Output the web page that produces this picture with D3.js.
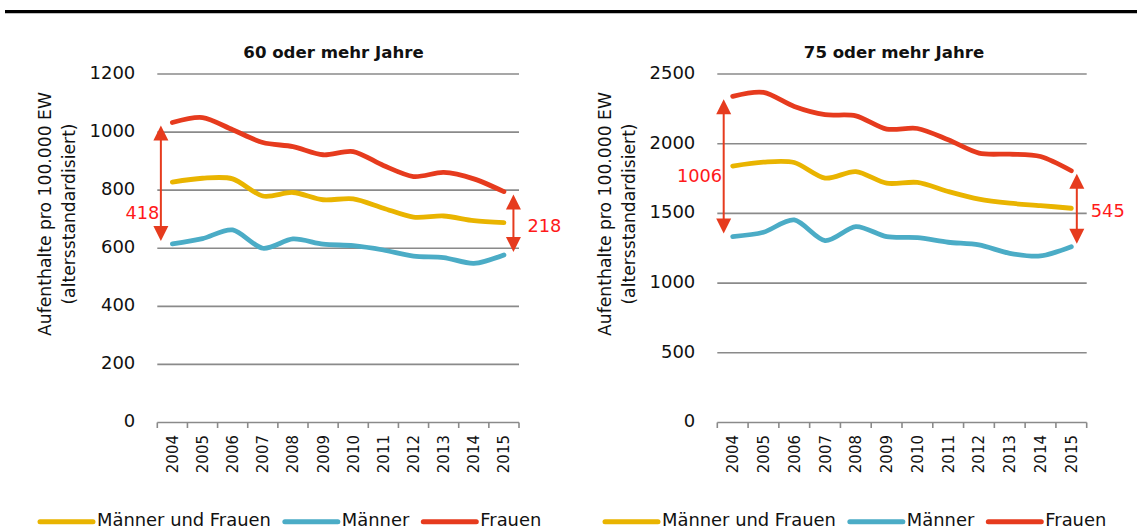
<!DOCTYPE html>
<html><head><meta charset="utf-8">
<script src="https://cdn.jsdelivr.net/npm/d3@7"></script>
<style>
html,body{margin:0;padding:0;background:#fff;}
svg{display:block;font-family:"DejaVu Sans",sans-serif;}
</style></head>
<body>
<svg id="chart" width="1137" height="529"></svg>
<script>
// ---- data ----
const years = ["2004","2005","2006","2007","2008","2009","2010","2011","2012","2013","2014","2015"];
const seriesNames = ["Männer und Frauen","Männer","Frauen"];
const seriesColors = ["#E9B400","#4BACC6","#E63B1E"];

const title60 = "60 oder mehr Jahre";
const ticks60 = [0,200,400,600,800,1000,1200];
const gesamt60 = [828,841,839,780,792,767,770,738,707,711,695,688];
const maenner60 = [615,633,663,600,632,614,609,594,573,568,548,577];
const frauen60 = [1033,1050,1008,964,950,922,933,885,847,861,839,795];
const diff60 = ["418","218"];

const title75 = "75 oder mehr Jahre";
const ticks75 = [0,500,1000,1500,2000,2500];
const gesamt75 = [1840,1868,1865,1753,1800,1717,1722,1657,1602,1573,1556,1537];
const maenner75 = [1334,1365,1453,1305,1405,1333,1326,1293,1274,1214,1195,1261];
const frauen75 = [2340,2368,2267,2208,2200,2105,2109,2028,1932,1925,1908,1806];
const diff75 = ["1006","545"];

const yTitle1 = "Aufenthalte pro 100.000 EW";
const yTitle2 = "(altersstandardisiert)";

// ---- drawing ----
const svg = d3.select("#chart");
const gridColor = "#8a8a8a";
const arrowColor = "#E63B1E";
const labelRed = "#FF1A1A";

// top rule
svg.append("line").attr("x1",5).attr("x2",1137).attr("y1",11.7).attr("y2",11.7)
  .attr("stroke","#000").attr("stroke-width",3.3);

function panel(cfg){
  const g = svg.append("g");
  const x = d3.scaleBand().domain(years).range([cfg.x0,cfg.x1]).padding(0);
  const y = d3.scaleLinear().domain([0,d3.max(cfg.ticks)]).range([422.5,74]);
  const cx = d => x(d)+x.bandwidth()/2;

  // gridlines
  g.selectAll(".grid").data(cfg.ticks.filter(t=>t>0)).join("line")
    .attr("x1",cfg.x0).attr("x2",cfg.x1)
    .attr("y1",d=>y(d)).attr("y2",d=>y(d))
    .attr("stroke",gridColor).attr("stroke-width",1.6);

  // y tick labels
  g.selectAll(".yt").data(cfg.ticks).join("text")
    .attr("x",cfg.x0-22).attr("y",d=>y(d)+4.8)
    .attr("text-anchor","end").attr("font-size","18px").attr("fill","#111")
    .text(d=>d);

  // x axis
  const xa = g.append("g").attr("transform",`translate(0,${y(0)})`);
  xa.append("line").attr("x1",cfg.x0).attr("x2",cfg.x1).attr("stroke",gridColor).attr("stroke-width",1.6);
  const edges = years.map(d=>x(d)).concat([cfg.x1]);
  xa.selectAll(".tk").data(edges).join("line")
    .attr("x1",d=>d).attr("x2",d=>d).attr("y1",0).attr("y2",5.5)
    .attr("stroke",gridColor).attr("stroke-width",1.6);
  xa.selectAll(".xl").data(years).join("text")
    .attr("transform",d=>`translate(${cx(d)+5.5},12.5) rotate(-90)`)
    .attr("text-anchor","end").attr("font-size","15px").attr("fill","#111")
    .text(d=>d);

  // title
  g.append("text").attr("x",cfg.titleX).attr("y",58.3).attr("text-anchor","middle")
    .attr("font-size","16.6px").attr("font-weight","bold").attr("fill","#111").text(cfg.title);

  // y axis title
  const ty = 214;
  g.append("text").attr("transform",`translate(${cfg.yt1},${ty}) rotate(-90)`)
    .attr("text-anchor","middle").attr("font-size","17.2px").attr("fill","#111")
    .attr("dy","0.35em").text(yTitle1);
  g.append("text").attr("transform",`translate(${cfg.yt2},${ty}) rotate(-90)`)
    .attr("text-anchor","middle").attr("font-size","17.2px").attr("fill","#111")
    .attr("dy","0.35em").text(yTitle2);

  // lines
  const line = d3.line().x((d,i)=>cx(years[i])).y(d=>y(d)).curve(d3.curveCardinal.tension(0.15));
  cfg.series.forEach((s,i)=>{
    g.append("path").attr("d",line(s)).attr("fill","none")
      .attr("stroke",seriesColors[i]).attr("stroke-width",4.8)
      .attr("stroke-linecap","round").attr("stroke-linejoin","round");
  });

  // difference arrows
  const fr = cfg.series[2], ma = cfg.series[1];
  function arrow(ax, v1, v2){
    const yt = y(v1)+3, yb = y(v2)-3, hl = 15, hw = 7.5;
    g.append("line").attr("x1",ax).attr("x2",ax).attr("y1",yt+hl-1).attr("y2",yb-hl+1)
      .attr("stroke",arrowColor).attr("stroke-width",2);
    g.append("path").attr("d",`M${ax},${yt}L${ax-hw},${yt+hl}L${ax+hw},${yt+hl}Z`).attr("fill",arrowColor);
    g.append("path").attr("d",`M${ax},${yb}L${ax-hw},${yb-hl}L${ax+hw},${yb-hl}Z`).attr("fill",arrowColor);
    return {yt,yb};
  }
  const a1x = cx(years[0]) - cfg.offL;
  const a1 = arrow(a1x, fr[0], ma[0]);
  g.append("text").attr("x",a1x-1.5).attr("y",a1.yb - cfg.lblL).attr("text-anchor","end")
    .attr("font-size","17.8px").attr("fill",labelRed).text(cfg.diff[0]);
  const a2x = cx(years[11]) + cfg.offR;
  const a2 = arrow(a2x, fr[11], ma[11]);
  g.append("text").attr("x",a2x+14).attr("y",(a2.yt+a2.yb)/2+8.5).attr("text-anchor","start")
    .attr("font-size","17.8px").attr("fill",labelRed).text(cfg.diff[1]);

  // legend
  let lx = cfg.legX;
  const ly = 521.7;
  seriesNames.forEach((n,i)=>{
    g.append("line").attr("x1",lx+2).attr("x2",lx+55).attr("y1",ly).attr("y2",ly)
      .attr("stroke",seriesColors[i]).attr("stroke-width",5).attr("stroke-linecap","round");
    const t = g.append("text").attr("x",lx+59).attr("y",ly+4.5)
      .attr("font-size","17.9px").attr("fill","#111").text(n);
    lx += 59 + t.node().getComputedTextLength() + 12;
  });
}

panel({x0:157.3, x1:519, ticks:ticks60, title:title60, titleX:333.5, yt1:45, yt2:69,
  series:[gesamt60,maenner60,frauen60], diff:diff60, offL:11.5, offR:9.5, lblL:22, legX:38});
panel({x0:717.3, x1:1086.7, ticks:ticks75, title:title75, titleX:894, yt1:605, yt2:629,
  series:[gesamt75,maenner75,frauen75], diff:diff75, offL:9, offR:5.5, lblL:52, legX:603});
</script>
</body></html>
